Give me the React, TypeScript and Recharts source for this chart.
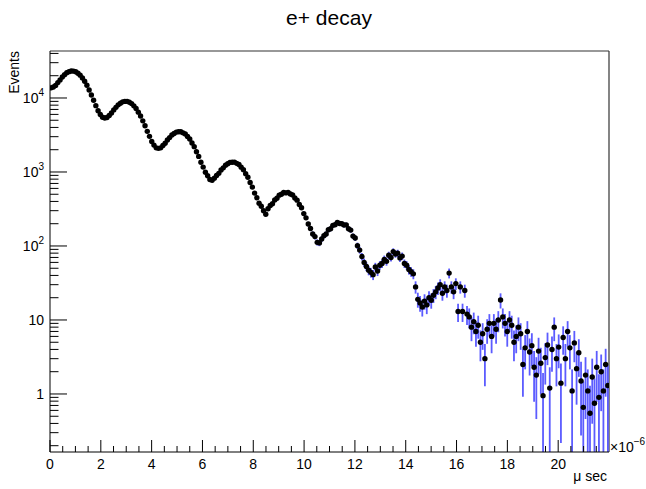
import React from 'react';
import { ScatterChart, Scatter, XAxis, YAxis, ErrorBar, ReferenceLine } from 'recharts';

// histogram binning: 250 bins on [0, 22] (x 10^-6 s)
const BIN_WIDTH = 0.088;
const X_MAX = 22;
const Y_MIN = 0.1644;
const Y_MAX = 43150;

// bin contents
const counts0to2 = [
  13700, 14050, 14800, 16150, 17550, 19200, 20600, 21900, 22700, 23200, 23100, 22650,
  21600, 20350, 18600, 16800, 14850, 12800, 10950, 9300, 7880, 6720, 5970, 5480,
];
const counts2to4 = [
  5360, 5440, 5820, 6280, 6900, 7470, 8080, 8500, 8870, 8990, 9000, 8750,
  8400, 7830, 7210, 6440, 5710, 4910, 4220, 3540, 3030, 2580, 2310, 2120,
];
const counts4to6 = [
  2085, 2120, 2280, 2450, 2710, 2915, 3160, 3310, 3460, 3490, 3500, 3380,
  3260, 3010, 2790, 2470, 2200, 1880, 1625, 1355, 1165, 990, 890, 790,
];
const counts6to8 = [
  775, 825, 895, 958, 1062, 1138, 1236, 1290, 1350, 1355, 1360, 1308,
  1262, 1162, 1075, 950, 848, 720, 625, 518, 448, 378, 345, 300,
];
const counts8to10 = [
  268, 318, 352, 372, 418, 442, 486, 500, 528, 522, 530, 505,
  490, 446, 416, 364, 328, 274, 240, 198, 172, 145, 134, 112,
];
const counts10to14 = [
  110, 124, 138, 145, 166, 171, 190, 194, 208, 201,
  200, 192, 193, 171, 164, 136, 128, 101, 88, 72, 60, 53, 47, 44, 41,
  52, 46, 55, 58, 66, 62, 75, 70, 84, 78, 80, 69, 73, 58, 55,
];
const counts14to18 = [
  48, 45, 42, 28, 19, 17, 15, 18, 16, 20,
  18.5, 21.6, 24, 27, 30, 23, 28, 25, 43, 28,
  24, 31, 13, 28, 13, 25, 12, 11, 8, 9.5,
  7, 8.5, 5, 6.5, 3, 7.5, 9, 6, 9, 7.5,
  10, 18.6, 11, 9,
];
const counts18to22 = [
  7, 10, 8.5, 5, 6, 8, 6.5, 2.5, 4.2, 7,
  3.7, 4.5, 2.3, 1.8, 3.8, 2.6, 0.95, 3.1, 4.6, 1.2,
  4, 8, 3, 4.3, 1.4, 5.8, 3, 7, 4.2, 1.1,
  4.9, 2.2, 3.6, 1.5, 0.66, 1.8, 1.1, 0.55, 1.7, 0.75,
  2.3, 0.9, 2.0, 1.1, 2.5, 1.3,
];

const counts = [
  ...counts0to2, ...counts2to4, ...counts4to6, ...counts6to8,
  ...counts8to10, ...counts10to14, ...counts14to18, ...counts18to22,
];

const xMajorLabels = [0, 2, 4, 6, 8, 10, 12, 14, 16, 18, 20];
const yMajorTicks = [1, 10, 100, 1000, 10000];

// sqrt(N) errors; lower end clipped at the frame bottom like ROOT does on a log axis
const data = counts.map((v, i) => {
  const e = Math.sqrt(v);
  return { t: (i + 0.5) * BIN_WIDTH, v, err: [Math.min(e, v - Y_MIN), e] };
});

const xTicks: number[] = [];
for (let k = 0; k <= 43; k++) xTicks.push(k * 0.5);

const yTicks: number[] = [];
[0.1, 1, 10, 100, 1000, 10000].forEach(d => {
  for (let m = 1; m <= 9; m++) {
    const v = m * d;
    if (v >= Y_MIN && v <= Y_MAX) yTicks.push(v);
  }
});

const FONT = '"Liberation Sans", Arial, Helvetica, sans-serif';

const XTick = (props: any) => {
  const { x, y, payload } = props;
  const val = payload.value;
  const major = xMajorLabels.includes(val);
  return (
    <g>
      <line x1={x} y1={y} x2={x} y2={y - (major ? 12 : 6)} stroke="#000" strokeWidth={1} />
      {major && (
        <text x={x} y={y + 17} textAnchor="middle" fontSize={14} fontFamily={FONT} fill="#000">
          {val}
        </text>
      )}
    </g>
  );
};

const YTick = (props: any) => {
  const { x, y, payload } = props;
  const v = payload.value;
  const exp = Math.round(Math.log10(v));
  const major = yMajorTicks.includes(v);
  return (
    <g>
      <line x1={x} y1={y} x2={x + (major ? 17 : 8.5)} y2={y} stroke="#000" strokeWidth={1} />
      {major && (
        <text x={x - 6} y={y + 5} textAnchor="end" fontSize={14} fontFamily={FONT} fill="#000">
          {exp === 0 ? '1' : '10'}
          {exp >= 2 && <tspan dy={-7} fontSize={10}>{exp}</tspan>}
        </text>
      )}
    </g>
  );
};

const Dot = (props: any) => {
  const { cx, cy } = props;
  if (cx == null || cy == null) return null;
  return <circle cx={cx} cy={cy} r={2.7} fill="#000" />;
};

export default function App() {
  return (
    <div style={{ position: 'absolute', left: 0, top: 0, width: 646, height: 489, background: '#fff' }}>
      <ScatterChart width={646} height={489} margin={{ top: 51, right: 37, bottom: 0, left: 0 }}>
        <XAxis
          type="number"
          dataKey="t"
          domain={[0, X_MAX]}
          allowDataOverflow
          ticks={xTicks}
          interval={0}
          tick={<XTick />}
          tickLine={false}
          tickSize={0}
          tickMargin={0}
          height={37}
          axisLine={{ stroke: '#000', strokeWidth: 1 }}
        />
        <YAxis
          type="number"
          dataKey="v"
          scale="log"
          domain={[Y_MIN, Y_MAX]}
          allowDataOverflow
          ticks={yTicks}
          interval={0}
          tick={<YTick />}
          tickLine={false}
          tickSize={0}
          tickMargin={0}
          width={50}
          axisLine={{ stroke: '#000', strokeWidth: 1 }}
        />
        <ReferenceLine y={Y_MAX} stroke="#333" strokeWidth={1.2} />
        <ReferenceLine x={X_MAX} stroke="#333" strokeWidth={1.2} />
        <Scatter data={data} shape={<Dot />} fill="#000" isAnimationActive={false}>
          <ErrorBar dataKey="err" direction="y" width={0} stroke="#5c5cff" strokeWidth={1.8} isAnimationActive={false} />
        </Scatter>
      </ScatterChart>
      <svg
        width={646}
        height={489}
        style={{ position: 'absolute', left: 0, top: 0, pointerEvents: 'none' }}
        fontFamily={FONT}
      >
        <text x={329} y={25} textAnchor="middle" fontSize={21} fill="#000">e+ decay</text>
        <text transform="translate(19,51) rotate(-90)" textAnchor="end" fontSize={14} fill="#000">Events</text>
        <text x={610} y={452} fontSize={14} fill="#000">
          ×10<tspan dy={-7} fontSize={10}>−6</tspan>
        </text>
        <text x={607} y={481} textAnchor="end" fontSize={14} fill="#000">μ sec</text>
      </svg>
    </div>
  );
}
